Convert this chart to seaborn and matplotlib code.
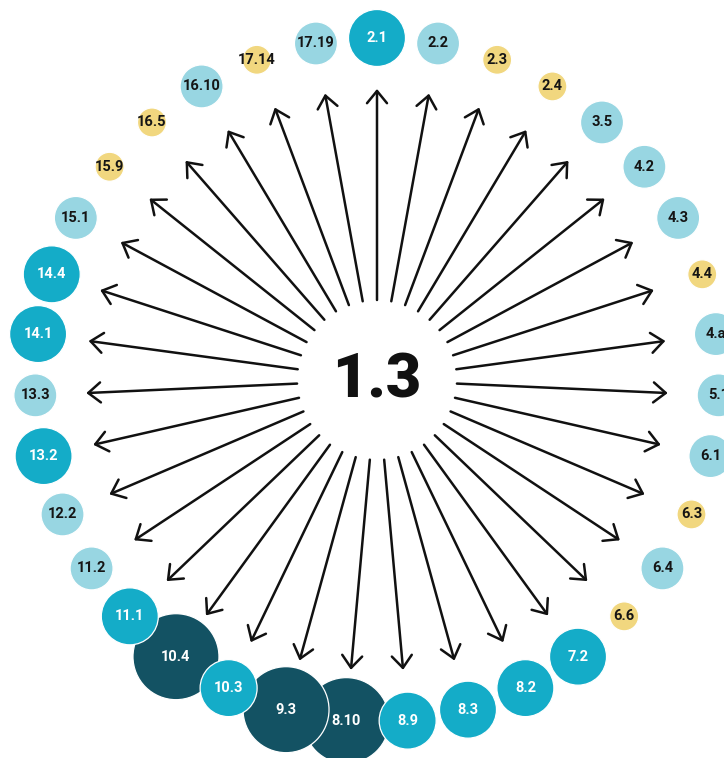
import numpy as np
import pandas as pd
import matplotlib
matplotlib.use("Agg")
import matplotlib.pyplot as plt
import seaborn as sns

# ---- data ----
center_label = "1.3"
labels = ["2.1", "2.2", "2.3", "2.4", "3.5", "4.2", "4.3", "4.4", "4.a", "5.1",
          "6.1", "6.3", "6.4", "6.6", "7.2", "8.2", "8.3", "8.9", "8.10", "9.3",
          "10.3", "10.4", "11.1", "11.2", "12.2", "13.2", "13.3", "14.1", "14.4", "15.1",
          "15.9", "16.5", "16.10", "17.14", "17.19"]
tiers = ["medium", "light", "yellow", "yellow", "light", "light", "light", "yellow", "light", "light",
         "light", "yellow", "light", "yellow", "medium", "medium", "medium", "medium", "dark", "dark",
         "medium", "dark", "medium", "light", "light", "medium", "light", "medium", "medium", "light",
         "yellow", "yellow", "light", "yellow", "light"]
tier_strength = {"yellow": 1, "light": 2, "medium": 3, "dark": 4}
strength = [tier_strength[t] for t in tiers]

# ---- styles ----
palette = {"yellow": "#F1D77F", "light": "#98D6E2", "medium": "#14ACC8", "dark": "#135263"}
text_colors = {"yellow": "#151515", "light": "#151515", "medium": "white", "dark": "white"}
radii_px = {1: 14.5, 2: 21.5, 3: 28.5, 4: 43}
px2pt = 0.72
size_map = {k: (2 * r * px2pt) ** 2 for k, r in radii_px.items()}
draw_rank = {"dark": 0, "medium": 1, "light": 2, "yellow": 3}

W, H = 724, 758
cx, cy = 377, 380
R_node, R_start, R_end = 342, 80, 291

n = len(labels)
theta = np.deg2rad(np.arange(n) * 360.0 / n)
ux, uy = np.sin(theta), -np.cos(theta)

df = pd.DataFrame({
    "label": labels, "tier": tiers, "strength": strength,
    "x": cx + R_node * ux, "y": cy + R_node * uy,
    "rank": [draw_rank[t] for t in tiers], "idx": np.arange(n),
})
df_draw = df.sort_values(["rank", "idx"])

sns.set_theme(style="white")
plt.rcParams["font.family"] = ["Roboto", "DejaVu Sans"]

fig = plt.figure(figsize=(W / 100, H / 100), dpi=100)
ax = fig.add_axes([0, 0, 1, 1])

# arrows
for i in range(n):
    ax.annotate("", xy=(cx + R_end * ux[i], cy + R_end * uy[i]),
                xytext=(cx + R_start * ux[i], cy + R_start * uy[i]),
                arrowprops=dict(arrowstyle="->,head_length=0.55,head_width=0.45",
                                lw=1.8, color="#111111", mutation_scale=16,
                                shrinkA=0, shrinkB=0), zorder=2)

sns.scatterplot(data=df_draw, x="x", y="y", hue="tier", size="strength",
                sizes=size_map, palette=palette, edgecolor="white", linewidth=0.9,
                legend=False, ax=ax, zorder=3)

for _, row in df.iterrows():
    ax.text(row["x"], row["y"], row["label"], ha="center", va="center",
            fontsize=10.5, fontweight="bold", color=text_colors[row["tier"]], zorder=4)

ax.text(cx, cy, center_label, ha="center", va="center", fontsize=44,
        fontweight="black", color="#111111", zorder=4)

ax.set_xlim(0, W)
ax.set_ylim(H, 0)
ax.set_aspect("auto")
ax.axis("off")
fig.savefig("out.png", dpi=100, facecolor="white")
